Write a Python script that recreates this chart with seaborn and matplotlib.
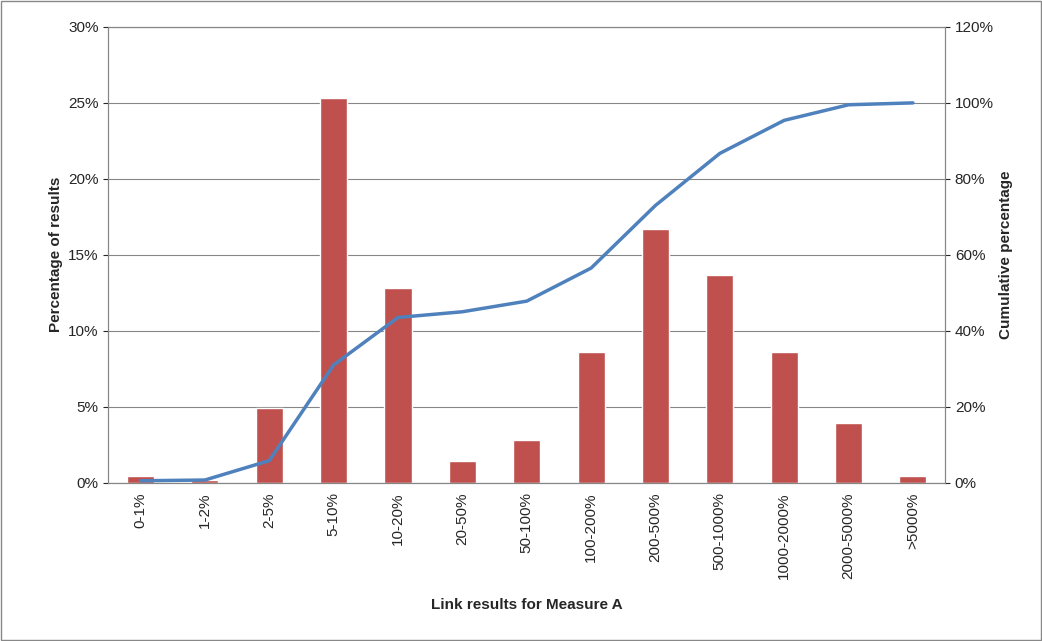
import numpy as np
import pandas as pd
import seaborn as sns
import matplotlib.pyplot as plt
from matplotlib.ticker import FuncFormatter

categorias = ['0-1%', '1-2%', '2-5%', '5-10%', '10-20%', '20-50%', '50-100%',
              '100-200%', '200-500%', '500-1000%', '1000-2000%', '2000-5000%', '>5000%']
porcentaje = [0.45, 0.2, 4.9, 25.3, 12.8, 1.4, 2.8, 8.6, 16.7, 13.7, 8.6, 3.9, 0.45]
acumulado = [0.5, 0.7, 5.8, 31.0, 43.5, 45.0, 47.8, 56.5, 73.0, 86.7, 95.4, 99.5, 100.0]

df = pd.DataFrame({'cat': categorias, 'pct': porcentaje, 'cum': acumulado})

sns.set_style('white')
plt.rcParams['font.family'] = ['Liberation Sans', 'DejaVu Sans']

fig = plt.figure(figsize=(10.42, 6.41), dpi=100)
ax = fig.add_axes([0.104, 0.247, 0.803, 0.711])
sns.barplot(data=df, x='cat', y='pct', color='#C0504D', saturation=1, width=0.42, ax=ax)
ax.set_ylim(0, 30)
ax.set_yticks(np.arange(0, 31, 5))
ax.yaxis.set_major_formatter(FuncFormatter(lambda v, p: f'{v:.0f}%'))
ax.grid(axis='y', color='#868686', linewidth=0.8)
ax.set_axisbelow(True)
ax.set_xlim(-0.5, len(categorias) - 0.5)
ax.tick_params(axis='x', rotation=90, labelsize=11)
ax.tick_params(axis='y', labelsize=11)
ax.set_xlabel('Link results for Measure A', fontsize=11, fontweight='bold', labelpad=14)
ax.set_ylabel('Percentage of results', fontsize=11, fontweight='bold')

ax2 = ax.twinx()
sns.lineplot(x=np.arange(len(categorias)), y=df['cum'], color='#4F81BD', linewidth=2.5, ax=ax2)
ax2.set_ylim(0, 120)
ax2.set_yticks(np.arange(0, 121, 20))
ax2.yaxis.set_major_formatter(FuncFormatter(lambda v, p: f'{v:.0f}%'))
ax2.tick_params(axis='y', labelsize=11)
ax2.set_ylabel('Cumulative percentage', fontsize=11, fontweight='bold')
for a in (ax, ax2):
    for s in a.spines.values():
        s.set_color('#868686')

fig.patches.append(plt.Rectangle((0.001, 0.001), 0.998, 0.998, transform=fig.transFigure,
                                 fill=False, edgecolor='#888888', linewidth=1))
fig.savefig('out.png', dpi=100)
